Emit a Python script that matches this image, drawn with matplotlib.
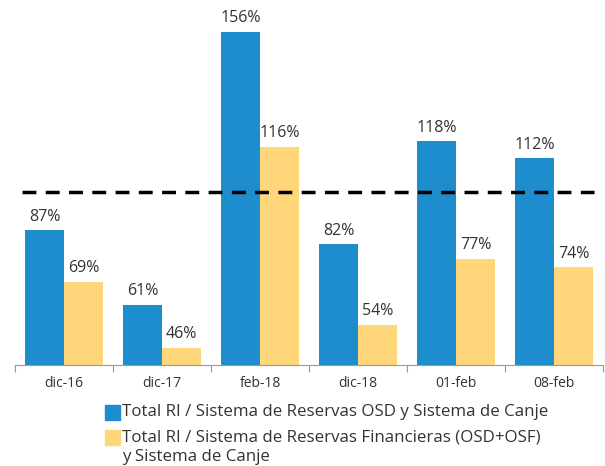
import matplotlib.pyplot as plt
from matplotlib.patches import Rectangle
import numpy as np

plt.rcParams['font.family'] = ['Open Sans', 'DejaVu Sans']

categories = ["dic-16", "dic-17", "feb-18", "dic-18", "01-feb", "08-feb"]
osd = [87, 61, 156, 82, 118, 112]
osd_osf = [69, 46, 116, 54, 77, 74]
legend_labels = ["Total RI / Sistema de Reservas OSD y Sistema de Canje",
                 "Total RI / Sistema de Reservas Financieras (OSD+OSF)\ny Sistema de Canje"]
threshold = 100

blue = "#1E8DCE"
yellow = "#FFD67A"
text_col = "#333333"

fig = plt.figure(figsize=(6.05, 4.66), dpi=100)
ax = fig.add_axes([0.025, 0.217, 0.972, 0.783])

x = np.arange(len(categories))
w = 0.4
ax.bar(x - w / 2, osd, w, color=blue)
ax.bar(x + w / 2, osd_osf, w, color=yellow)

for xi, v in zip(x, osd):
    ax.text(xi - w / 2, v + 1.8, f"{v}%", ha="center", va="bottom", fontsize=11.5, color=text_col)
for xi, v in zip(x, osd_osf):
    ax.text(xi + w / 2, v + 1.8, f"{v}%", ha="center", va="bottom", fontsize=11.5, color=text_col)

# reference line at 100%
ax.axhline(threshold, color="black", lw=2.5, ls=(0, (4, 2.7)), xmin=0.012, xmax=0.985)

ax.set_ylim(40, 167)
ax.set_xlim(-0.5, len(categories) - 0.5)
ax.set_yticks([])
for s in ["top", "right", "left"]:
    ax.spines[s].set_visible(False)
ax.spines["bottom"].set_color("#999999")
ax.set_xticks(np.arange(len(categories) + 1) - 0.5)
ax.set_xticklabels([])
ax.set_xticks(x, minor=True)
ax.set_xticklabels(categories, minor=True)
ax.tick_params(axis="x", which="major", length=5, color="#999999")
ax.tick_params(axis="x", which="minor", length=0, labelsize=10, labelcolor=text_col, pad=8)

# legend drawn by hand
W, H = 605, 466
for lab, col, ytop in zip(legend_labels, [blue, yellow], [405, 430]):
    fig.patches.append(Rectangle((105 / W, 1 - (ytop + 15) / H), 15 / W, 15 / H,
                                 transform=fig.transFigure, color=col))
    fig.text(122 / W, 1 - (ytop - 1) / H, lab, ha="left", va="top", fontsize=12.2,
             color=text_col, linespacing=1.3)

plt.savefig("out.png", dpi=100)
